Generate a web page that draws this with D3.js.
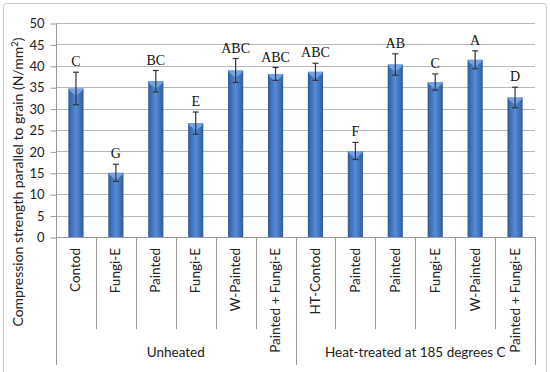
<!DOCTYPE html>
<html>
<head>
<meta charset="utf-8">
<script src="https://cdn.jsdelivr.net/npm/d3@7"></script>
<style>
  html, body { margin: 0; padding: 0; background: #fff; }
  svg { display: block; }
</style>
</head>
<body>
<svg id="chart" width="550" height="372"></svg>
<script>
const categories = ["Contod","Fungi-E","Painted","Fungi-E","W-Painted","Painted + Fungi-E",
                    "HT-Contod","Painted","Painted","Fungi-E","W-Painted","Painted + Fungi-E"];
const values = [34.7, 15.0, 36.4, 26.6, 38.9, 38.1, 38.6, 20.1, 40.3, 36.2, 41.4, 32.6];
const errors = [3.8, 2.0, 2.5, 2.6, 2.8, 1.5, 2.0, 2.0, 2.5, 1.9, 2.1, 2.4];
const letters = ["C","G","BC","E","ABC","ABC","ABC","F","AB","C","A","D"];
const groupNames = ["Unheated", "Heat-treated at 185 degrees C"];
const groupSizes = [6, 6];
const yTicks = [0,5,10,15,20,25,30,35,40,45,50];

const svg = d3.select("#chart");
const m = {left: 56, right: 535, top: 23, bottom: 237};
const sans = "Lato, 'Open Sans', sans-serif";

// outer border
svg.append("rect").attr("x", 3.5).attr("y", 3.5).attr("width", 543).attr("height", 380)
  .attr("rx", 3).attr("fill", "#fff").attr("stroke", "#c8c8c8").attr("stroke-width", 1);

const idx = categories.map((d, i) => i);
const x = d3.scaleBand().domain(idx).range([m.left, m.right]).padding(0);
const y = d3.scaleLinear().domain([0, 50]).range([m.bottom, m.top]);

const defs = svg.append("defs");
const grad = defs.append("linearGradient").attr("id", "barGrad")
  .attr("x1", "0%").attr("x2", "100%").attr("y1", "0%").attr("y2", "0%");
grad.append("stop").attr("offset", "0%").attr("stop-color", "#2c5b9c");
grad.append("stop").attr("offset", "20%").attr("stop-color", "#3d70b8");
grad.append("stop").attr("offset", "50%").attr("stop-color", "#578cd6");
grad.append("stop").attr("offset", "80%").attr("stop-color", "#3d70b8");
grad.append("stop").attr("offset", "100%").attr("stop-color", "#2c5b9c");

// gridlines
svg.append("g").selectAll("line").data(yTicks.filter(t => t > 0)).join("line")
  .attr("x1", m.left).attr("x2", m.right)
  .attr("y1", d => Math.round(y(d)) + 0.5).attr("y2", d => Math.round(y(d)) + 0.5)
  .attr("stroke", "#b8b8b8").attr("stroke-width", 1);

// y axis
const yAxis = d3.axisLeft(y).tickValues(yTicks).tickSize(6).tickPadding(6);
const gy = svg.append("g").attr("transform", `translate(${m.left + 0.5},0.5)`).call(yAxis);
gy.select(".domain").remove();
gy.selectAll(".tick line").attr("stroke", "#9a9a9a");
gy.selectAll(".tick text").attr("font-family", sans).attr("font-size", 13).attr("fill", "#222");
svg.append("line").attr("x1", m.left + 0.5).attr("x2", m.left + 0.5)
  .attr("y1", m.top).attr("y2", 365).attr("stroke", "#9a9a9a");

// x axis line
svg.append("line").attr("x1", m.left).attr("x2", m.right)
  .attr("y1", Math.round(y(0)) + 0.5).attr("y2", Math.round(y(0)) + 0.5).attr("stroke", "#9a9a9a");

// category dividers
let boundaries = [];
let acc = 0;
const groupBounds = [0];
groupSizes.forEach(s => { acc += s; groupBounds.push(acc); });
for (let i = 1; i < categories.length; i++) {
  if (!groupBounds.includes(i)) boundaries.push(i);
}
svg.append("g").selectAll("line").data(boundaries).join("line")
  .attr("x1", d => Math.round(x(d)) + 0.5).attr("x2", d => Math.round(x(d)) + 0.5)
  .attr("y1", m.bottom).attr("y2", 329).attr("stroke", "#9a9a9a");
svg.append("g").selectAll("line").data(groupBounds.slice(1)).join("line")
  .attr("x1", d => d >= categories.length ? m.right + 0.5 : Math.round(x(d)) + 0.5)
  .attr("x2", d => d >= categories.length ? m.right + 0.5 : Math.round(x(d)) + 0.5)
  .attr("y1", m.bottom).attr("y2", 365).attr("stroke", "#9a9a9a");

// bars
const bw = x.bandwidth() * 0.38;
const bars = svg.append("g");
bars.selectAll("rect").data(values).join("rect")
  .attr("x", (d, i) => x(i) + x.bandwidth() / 2 - bw / 2)
  .attr("y", d => y(d))
  .attr("width", bw)
  .attr("height", d => y(0) - y(d))
  .attr("fill", "url(#barGrad)");
bars.selectAll("path").data(values).join("path")
  .attr("d", (d, i) => {
    const cx = x(i) + x.bandwidth() / 2, x0 = cx - bw / 2, x1 = cx + bw / 2, t = y(d);
    return `M${x0},${t}L${x1},${t}L${x1 - 2},${t + 3}L${cx},${t + 7}L${x0 + 2},${t + 3}Z`;
  })
  .attr("fill", "#7eaae6").attr("opacity", 0.85);

// error bars
const eb = svg.append("g").attr("stroke", "#333").attr("stroke-width", 1.2);
values.forEach((v, i) => {
  const cx = x(i) + x.bandwidth() / 2;
  eb.append("line").attr("x1", cx).attr("x2", cx).attr("y1", y(v + errors[i])).attr("y2", y(v - errors[i]));
  eb.append("line").attr("x1", cx - 3).attr("x2", cx + 3).attr("y1", y(v + errors[i])).attr("y2", y(v + errors[i]));
  eb.append("line").attr("x1", cx - 3).attr("x2", cx + 3).attr("y1", y(v - errors[i])).attr("y2", y(v - errors[i]));
});

// letters
svg.append("g").selectAll("text").data(letters).join("text")
  .attr("x", (d, i) => x(i) + x.bandwidth() / 2)
  .attr("y", (d, i) => y(values[i] + errors[i]) - 6)
  .attr("text-anchor", "middle")
  .attr("font-family", "'Liberation Serif', 'Times New Roman', serif")
  .attr("font-size", 14).attr("fill", "#111")
  .text(d => d);

// category labels
svg.append("g").selectAll("text").data(categories).join("text")
  .attr("transform", (d, i) => `translate(${x(i) + x.bandwidth() / 2 + 4.5},248) rotate(-90)`)
  .attr("text-anchor", "end")
  .attr("font-family", sans).attr("font-size", 13.5).attr("fill", "#222")
  .text(d => d);

// group labels
svg.append("g").selectAll("text").data(groupNames).join("text")
  .attr("x", (d, g) => (x(groupBounds[g]) + (groupBounds[g + 1] >= categories.length ? m.right : x(groupBounds[g + 1]))) / 2)
  .attr("y", 357)
  .attr("text-anchor", "middle")
  .attr("font-family", sans).attr("font-size", 13.5).attr("fill", "#222")
  .text(d => d);

// y title
const yt = svg.append("text")
  .attr("transform", "translate(23,182) rotate(-90)")
  .attr("text-anchor", "middle")
  .attr("font-family", sans).attr("font-size", 14).attr("fill", "#222");
yt.append("tspan").text("Compression strength parallel to grain (N/mm");
yt.append("tspan").attr("font-size", 9.5).attr("dy", -5).text("2");
yt.append("tspan").attr("dy", 5).text(")");
</script>
</body>
</html>
